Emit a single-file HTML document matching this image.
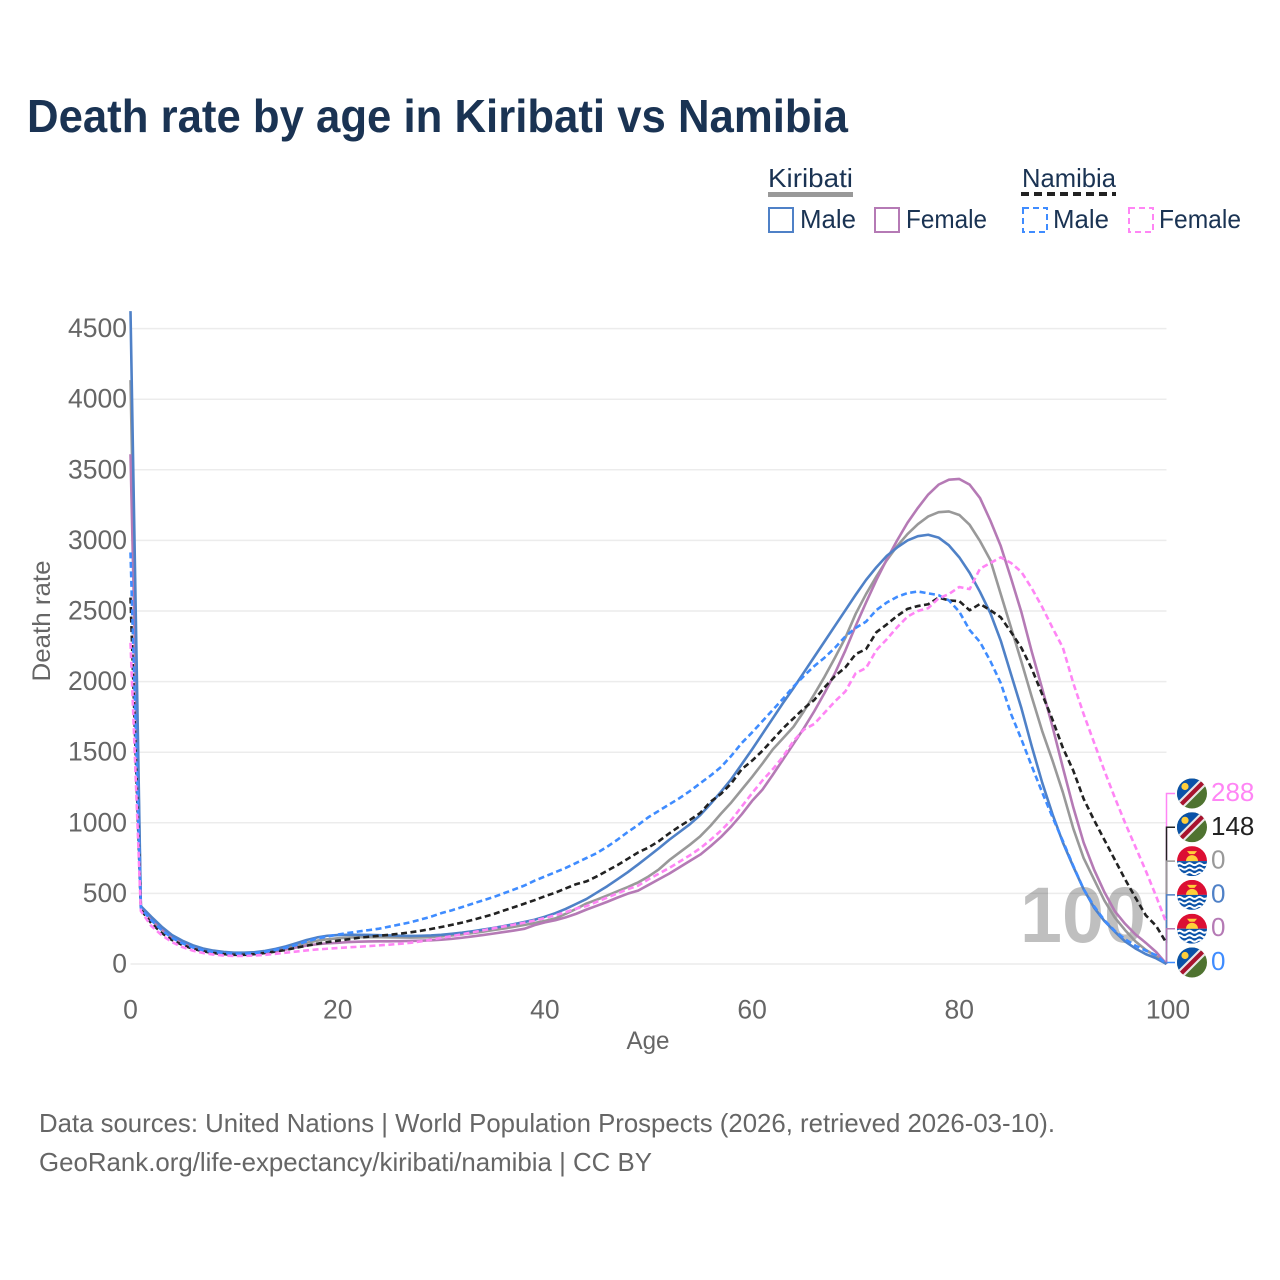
<!DOCTYPE html>
<html lang="en">
<head>
<meta charset="utf-8">
<title>Death rate by age in Kiribati vs Namibia</title>
<style>
html,body{margin:0;padding:0;background:#fff;}
svg{display:block;font-family:"Liberation Sans",sans-serif;}
</style>
</head>
<body>
<svg id="chart" xmlns="http://www.w3.org/2000/svg" width="1280" height="1280" viewBox="0 0 1280 1280">
  <defs>
    <clipPath id="flag-clip"><circle cx="0" cy="0" r="15"/></clipPath>
    <g id="flag-na" clip-path="url(#flag-clip)">
      <rect x="-15" y="-15" width="30" height="30" fill="#4f7330"/>
      <polygon points="-15,-15 15,-15 -15,15" fill="#0a52a8"/>
      <polygon points="-15,9 9,-15 15,-15 15,-9 -9,15 -15,15" fill="#e8e8e8"/>
      <polygon points="-15,12 12,-15 15,-15 15,-12 -12,15 -15,15" fill="#a8132e"/>
      <circle cx="-7" cy="-7" r="3.6" fill="#ffce3a"/>
    </g>
    <g id="flag-ki" clip-path="url(#flag-clip)">
      <rect x="-15" y="-15" width="30" height="15" fill="#dc0f33"/>
      <rect x="-15" y="0" width="30" height="15" fill="#0a52a8"/>
      <path d="M-6 0 A6 6 0 0 1 6 0 Z" fill="#ffce3a"/>
      <path d="M-5 -10 L5 -10 L2.5 -7 L-2.5 -7 Z" fill="#ffce3a"/>
      <path d="M-15 3 q2.5 -2 5 0 t5 0 t5 0 t5 0 t5 0 t5 0" fill="none" stroke="#fff" stroke-width="2"/>
      <path d="M-15 7.5 q2.5 -2 5 0 t5 0 t5 0 t5 0 t5 0 t5 0" fill="none" stroke="#fff" stroke-width="2"/>
      <path d="M-15 12 q2.5 -2 5 0 t5 0 t5 0 t5 0 t5 0 t5 0" fill="none" stroke="#fff" stroke-width="2"/>
    </g>
  </defs>

  <text x="27" y="132" font-size="46" font-weight="700" fill="#1a3353" textLength="821" lengthAdjust="spacingAndGlyphs">Death rate by age in Kiribati vs Namibia</text>

  <g font-size="26" fill="#1a3353">
    <text x="768" y="187" textLength="85" lengthAdjust="spacingAndGlyphs">Kiribati</text>
    <rect x="768" y="192" width="85" height="5" fill="#999"/>
    <text x="1022" y="187" textLength="94" lengthAdjust="spacingAndGlyphs">Namibia</text>
    <line x1="1021" y1="194" x2="1116" y2="194" stroke="#222" stroke-width="4" stroke-dasharray="8 5"/>
    <rect x="769" y="208" width="24" height="24" fill="none" stroke="#4f81c7" stroke-width="2"/>
    <text x="800" y="228" textLength="56" lengthAdjust="spacingAndGlyphs">Male</text>
    <rect x="875" y="208" width="24" height="24" fill="none" stroke="#b57ab5" stroke-width="2"/>
    <text x="906" y="228" textLength="81" lengthAdjust="spacingAndGlyphs">Female</text>
    <rect x="1023" y="208" width="24" height="24" fill="none" stroke="#3f8cff" stroke-width="2" stroke-dasharray="6 4"/>
    <text x="1053" y="228" textLength="56" lengthAdjust="spacingAndGlyphs">Male</text>
    <rect x="1129" y="208" width="24" height="24" fill="none" stroke="#ff85f5" stroke-width="2" stroke-dasharray="6 4"/>
    <text x="1159" y="228" textLength="82" lengthAdjust="spacingAndGlyphs">Female</text>
  </g>

  <g id="grid"></g>
  <g id="y-ticks" font-size="26.5" fill="#666" text-anchor="end"></g>
  <g id="x-ticks" font-size="26.5" fill="#666" text-anchor="middle"></g>

  <text transform="translate(50,621) rotate(-90)" font-size="25" fill="#666" text-anchor="middle" textLength="121" lengthAdjust="spacingAndGlyphs">Death rate</text>
  <text x="648" y="1049" font-size="25" fill="#666" text-anchor="middle" textLength="43" lengthAdjust="spacingAndGlyphs">Age</text>

  <text id="age-readout" x="1020" y="942" font-size="79" font-weight="700" fill="#000" fill-opacity="0.25" textLength="126" lengthAdjust="spacingAndGlyphs">100</text>

  <g id="connectors"></g>
  <g id="series"></g>
  <g id="end-labels" font-size="26"></g>

  <text x="39" y="1132" font-size="26" fill="#666" textLength="1016" lengthAdjust="spacingAndGlyphs">Data sources: United Nations | World Population Prospects (2026, retrieved 2026-03-10).</text>
  <text x="39" y="1171" font-size="26" fill="#666" textLength="613" lengthAdjust="spacingAndGlyphs">GeoRank.org/life-expectancy/kiribati/namibia | CC BY</text>
</svg>

<script>
const ages = [0,1,2,3,4,5,6,7,8,9,10,11,12,13,14,15,16,17,18,19,20,21,22,23,24,25,26,27,28,29,30,31,32,33,34,35,36,37,38,39,40,41,42,43,44,45,46,47,48,49,50,51,52,53,54,55,56,57,58,59,60,61,62,63,64,65,66,67,68,69,70,71,72,73,74,75,76,77,78,79,80,81,82,83,84,85,86,87,88,89,90,91,92,93,94,95,96,97,98,99,100];
const xTickLabels = [0,20,40,60,80,100];
const yTickLabels = [0,500,1000,1500,2000,2500,3000,3500,4000,4500];

const kiribatiAll = [4135,405,325,255,195,155,125,103,88,80,75,75,79,87,100,115,133,150,165,175,182,187,190,190,190,189,188,187,188,190,195,202,210,219,229,240,251,263,276,290,305,323,355,390,428,455,485,515,545,578,620,670,735,790,845,905,980,1065,1145,1235,1325,1420,1520,1600,1680,1790,1910,2035,2170,2310,2480,2620,2745,2860,2960,3045,3115,3170,3200,3205,3180,3110,2995,2860,2620,2380,2140,1890,1650,1440,1215,960,750,600,450,330,240,160,100,55,0];
const kiribatiFemale = [3610,400,315,245,188,148,118,97,82,74,70,70,73,80,90,103,117,130,140,146,150,155,158,160,161,161,162,163,165,168,172,178,186,195,205,215,226,237,249,275,295,310,330,355,385,412,440,470,498,520,560,600,640,685,730,775,835,900,975,1060,1155,1235,1340,1450,1560,1670,1790,1920,2060,2220,2395,2560,2720,2865,3000,3125,3230,3325,3395,3430,3435,3395,3300,3140,2960,2730,2490,2210,1950,1680,1390,1110,860,670,510,375,285,210,150,85,0];
const kiribatiMale = [4624,410,335,265,205,165,133,110,95,86,80,80,84,93,107,125,147,170,188,200,205,207,207,206,204,202,200,199,200,202,207,214,222,232,243,255,268,282,297,313,335,360,390,425,460,505,550,600,650,705,762,820,880,935,990,1055,1135,1220,1310,1415,1520,1630,1740,1850,1955,2065,2175,2285,2395,2505,2615,2720,2810,2890,2950,3000,3030,3040,3020,2965,2880,2770,2635,2485,2290,2050,1810,1540,1285,1060,860,690,530,400,305,230,160,110,70,40,0];
const namibiaAll = [2595,385,290,220,170,135,108,90,78,70,65,65,70,78,88,100,115,130,143,155,165,175,185,193,200,207,215,224,235,248,262,277,293,312,332,352,378,402,427,452,480,505,535,565,585,620,660,700,745,790,825,870,925,975,1020,1070,1150,1205,1280,1380,1440,1510,1590,1670,1740,1810,1870,1960,2040,2100,2195,2230,2350,2405,2465,2515,2535,2548,2595,2575,2570,2505,2550,2505,2455,2350,2238,2090,1910,1730,1530,1370,1170,1020,880,740,600,470,345,270,148];
const namibiaMale = [2915,395,310,240,185,147,118,98,85,78,73,73,78,87,100,115,135,160,180,195,208,220,230,240,250,265,280,295,315,335,360,380,403,427,450,473,500,527,555,590,620,650,680,715,750,785,830,880,935,985,1040,1085,1130,1175,1225,1280,1335,1395,1475,1565,1640,1720,1800,1880,1965,2040,2110,2170,2240,2320,2380,2425,2507,2560,2600,2627,2638,2625,2612,2575,2495,2365,2280,2145,1990,1770,1590,1400,1215,1040,870,695,530,410,310,235,175,130,95,62,0];
const namibiaFemale = [2275,375,270,205,155,120,95,78,67,60,57,57,60,65,72,80,88,96,103,108,113,118,122,127,132,137,143,150,160,172,185,197,210,224,238,252,265,278,292,308,325,345,367,392,410,440,470,500,530,555,600,640,680,725,770,820,880,945,1020,1115,1210,1300,1380,1470,1580,1660,1700,1780,1860,1930,2060,2096,2223,2300,2385,2460,2500,2520,2590,2620,2670,2655,2800,2840,2880,2840,2776,2660,2528,2380,2240,1990,1770,1570,1370,1180,1000,830,660,480,288];

const NS = 'http://www.w3.org/2000/svg';
function xScale(a){ return 130.5 + a * 10.36; }
function yScale(v){ return 964 - v * 0.1412; }
function make(tag, attrs, parent){
  const el = document.createElementNS(NS, tag);
  for (const k in attrs) el.setAttribute(k, attrs[k]);
  parent.appendChild(el);
  return el;
}

const grid = document.getElementById('grid');
const yTicks = document.getElementById('y-ticks');
yTickLabels.forEach(function(v){
  const line = make('line', {x1:130.5, x2:1166.5, y1:yScale(v), y2:yScale(v), stroke:'#ececec', 'stroke-width':1.5}, grid);
  
  
  const t = make('text', {x:127, y:yScale(v)+8.5}, yTicks);
  
  
  t.textContent = v;
});

const xTicks = document.getElementById('x-ticks');
xTickLabels.forEach(function(a){
  const t = make('text', {x:xScale(a) + (a === 100 ? 1.5 : 0), y:1018.5}, xTicks);
  
  
  t.textContent = a;
});

/* drawing order: first drawn lies beneath */
const seriesGroup = document.getElementById('series');
function drawSeries(values, color, dash, name){
  const d = values.map(function(v, i){
    return (i ? 'L' : 'M') + xScale(ages[i]).toFixed(2) + ' ' + yScale(v).toFixed(2);
  }).join(' ');
  const p = make('path', {d:d, fill:'none', stroke:color, 'stroke-width':2.6, 'stroke-linejoin':'round'}, seriesGroup);
  if (dash) p.setAttribute('stroke-dasharray', dash);
  
  
}
drawSeries(kiribatiAll, '#999999', '', 'line-kiribati-all');
drawSeries(kiribatiFemale, '#b57ab5', '', 'line-kiribati-female');
drawSeries(kiribatiMale, '#4f81c7', '', 'line-kiribati-male');
drawSeries(namibiaAll, '#222222', '6 3.5', 'line-namibia-all');
drawSeries(namibiaMale, '#3f8cff', '6 3.5', 'line-namibia-male');
drawSeries(namibiaFemale, '#ff85f5', '6 3.5', 'line-namibia-female');

/* end-of-line labels, stacked top to bottom */
const connectors = document.getElementById('connectors');
const endLabels = document.getElementById('end-labels');
function drawEnd(values, color, flag, slot, name){
  const rowY = 793.5 + slot * 33.8;
  const endV = values[values.length - 1];
  const c = make('polyline', {points:'1166.5,' + yScale(endV) + ' 1166.5,' + rowY + ' 1175,' + rowY, fill:'none', stroke:color, 'stroke-width':1.5}, connectors);
  
  
  const f = make('use', {href:'#' + flag, transform:'translate(1192,' + rowY + ')'}, endLabels);
  
  
  const t = make('text', {x:1211, y:rowY + 7.5, fill:color}, endLabels);
  
  
  t.textContent = endV;
}
drawEnd(namibiaFemale, '#ff85f5', 'flag-na', 0, 'end-namibia-female');
drawEnd(namibiaAll, '#222222', 'flag-na', 1, 'end-namibia-all');
drawEnd(kiribatiAll, '#999999', 'flag-ki', 2, 'end-kiribati-all');
drawEnd(kiribatiMale, '#4f81c7', 'flag-ki', 3, 'end-kiribati-male');
drawEnd(kiribatiFemale, '#b57ab5', 'flag-ki', 4, 'end-kiribati-female');
drawEnd(namibiaMale, '#3f8cff', 'flag-na', 5, 'end-namibia-male');
</script>
</body>
</html>
